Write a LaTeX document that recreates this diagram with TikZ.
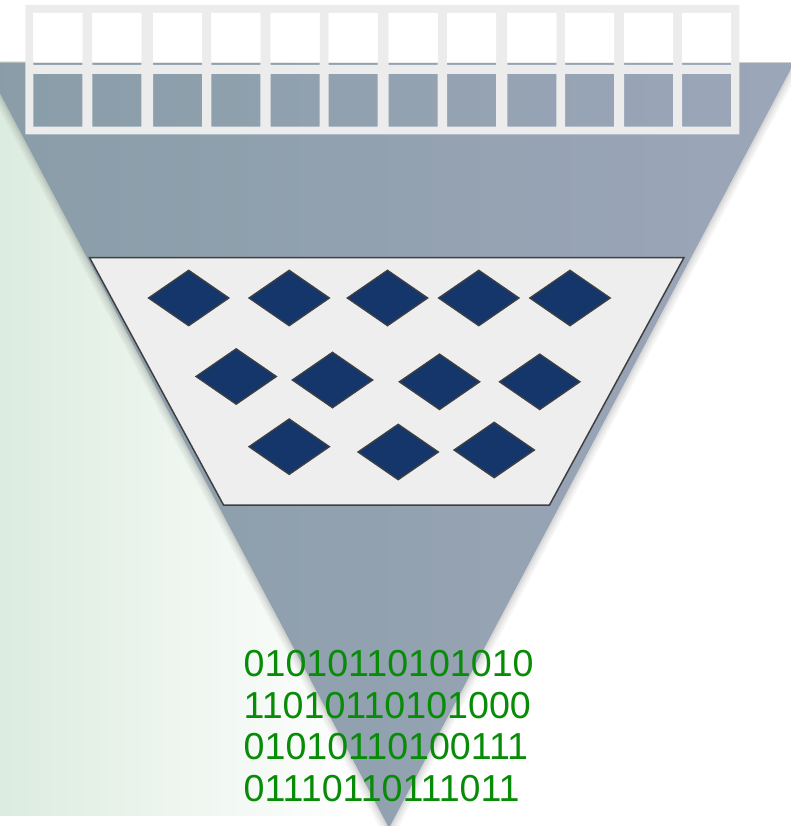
\documentclass[tikz,border=0pt]{standalone}
\usepackage{fontspec}
\setmainfont{Liberation Sans}
\usetikzlibrary{shapes.geometric}
\definecolor{greenL}{RGB}{220,236,223}
\definecolor{triL}{RGB}{137,157,168}
\definecolor{triR}{RGB}{156,166,185}
\definecolor{frame}{RGB}{236,236,236}
\definecolor{trap}{RGB}{238,238,238}
\definecolor{edge}{RGB}{64,64,64}
\definecolor{navy}{RGB}{21,54,106}
\definecolor{bingreen}{RGB}{8,140,8}
\tikzset{
  dia/.style={diamond, draw=edge, line width=1.3pt, fill=navy, minimum width=81pt, minimum height=56pt, inner sep=0pt},
  bin/.style={anchor=base west, inner sep=0pt, text=bingreen, font=\fontsize{37.6}{41.5}\selectfont},
}
\begin{document}
\begin{tikzpicture}[x=1pt,y=-1pt]
\useasboundingbox (0,0) rectangle (791,826);
% green background band
\shade[left color=greenL, right color=white] (0,62) rectangle (360,815);
% triangle
\coordinate (tl) at (-16,63);
\coordinate (tr) at (794,63);
\coordinate (ap) at (389,828);
\begin{scope}
  \clip (-30,63) rectangle (830,840);
  \foreach \w in {16,12,8,5,3}{
    \draw[black, opacity=0.035, line width=\w pt, line join=round, shift={(3,1)}] (tl) -- (tr) -- (ap) -- cycle;
  }
\end{scope}
\shade[left color=triL, right color=triR] (tl) -- (tr) -- (ap) -- cycle;
% grid frame
\fill[frame, even odd rule] (25.3,5) rectangle (739.3,134.3)
  \foreach \xx in {33.3,92.3,153,211.3,270.7,328.7,388.7,447,507.3,565,624,682}{
    (\xx,13) rectangle ++(49,52)
    (\xx,74) rectangle ++(49,52.7)
  };
\fill[white] \foreach \xx in {33.3,92.3,153,211.3,270.7,328.7,388.7,447,507.3,565,624,682}{
    (\xx,13) rectangle ++(49,49.7)
  };
% trapezoid
\draw[edge, fill=trap, line width=1.5pt, line join=miter] (89.5,257.5) -- (684,257.5) -- (549.5,505) -- (223.5,505) -- cycle;
% diamonds
\node[dia] (d1) at (188.7,298) {};
\node[dia] (d2) at (289.2,298) {};
\node[dia] (d3) at (387.5,298) {};
\node[dia] (d4) at (478.8,298) {};
\node[dia] (d5) at (570,298) {};
\node[dia] (d6) at (236.2,376.5) {};
\node[dia] (d7) at (332.5,380) {};
\node[dia] (d8) at (439.5,381.8) {};
\node[dia] (d9) at (539.7,381.8) {};
\node[dia] (d10) at (289.2,446.7) {};
\node[dia] (d11) at (398.2,452) {};
\node[dia] (d12) at (494.2,450) {};
% binary text
\node[bin] (b1) at (243.5,676.5) {01010110101010};
\node[bin] (b2) at (243.5,718) {11010110101000};
\node[bin] (b3) at (243.5,759.5) {01010110100111};
\node[bin] (b4) at (243.5,801) {01110110111011};
\end{tikzpicture}
\end{document}
